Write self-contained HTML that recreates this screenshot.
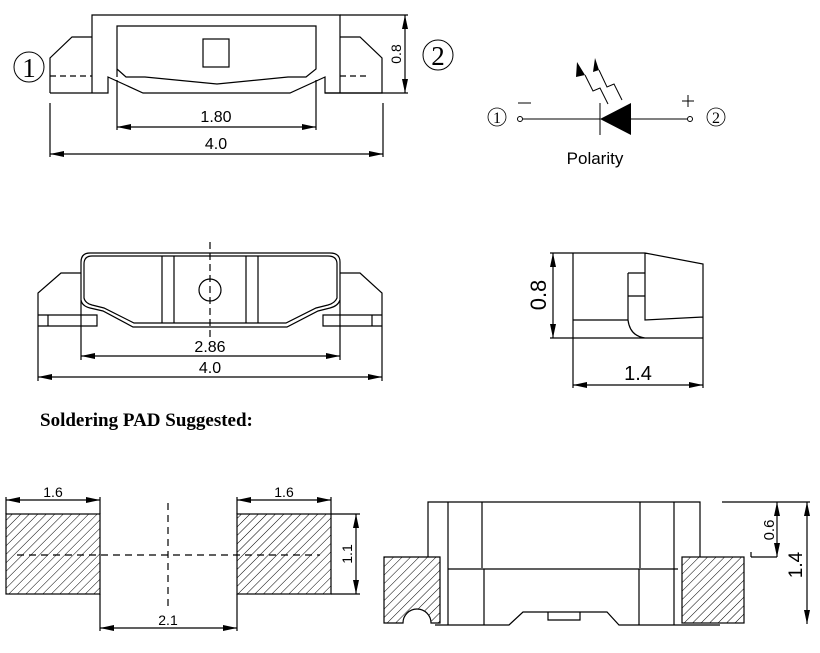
<!DOCTYPE html>
<html><head><meta charset="utf-8"><style>
html,body{margin:0;padding:0;background:#fff}
svg{display:block}
</style></head><body>
<svg width="820" height="653" viewBox="0 0 820 653" xmlns="http://www.w3.org/2000/svg" font-family="Liberation Sans, sans-serif">
<defs>
<marker id="a" viewBox="0 0 14 6" refX="14" refY="3" markerWidth="14" markerHeight="6" markerUnits="userSpaceOnUse" orient="auto-start-reverse"><path d="M0,0L14,3L0,6z" fill="#000"/></marker>
<pattern id="h" patternUnits="userSpaceOnUse" width="6" height="6" patternTransform="rotate(45)"><line x1="0" y1="0" x2="0" y2="6" stroke="#000" stroke-width="1"/></pattern>
</defs>
<g fill="none" stroke="#000" stroke-width="1.2">
<path d="M92,93V15H340V93"/>
<path d="M50,93V58L72,37H92M50,93H108V77L143,93H290L325,77V93H340"/>
<path d="M340,37H360L382,58V93H325"/>
<path d="M50,76H92M340,76H370" stroke-dasharray="6,4"/>
<path d="M117,77V26H316V69L306,77H288L217,84L145,77H126L117,69"/>
<rect x="203" y="39" width="26" height="28"/>
<path d="M117,80V130M316,80V130M50,103V157M383,103V157M340,15H408M340,93H408"/>
<path d="M117,127H316" marker-start="url(#a)" marker-end="url(#a)"/>
<path d="M50,154H383" marker-start="url(#a)" marker-end="url(#a)"/>
<path d="M405,15V93" marker-start="url(#a)" marker-end="url(#a)"/>
<circle cx="29" cy="67" r="15" stroke-width="1"/>
<circle cx="438" cy="55" r="15" stroke-width="1"/>
<circle cx="497" cy="117" r="9" stroke-width="0.8"/>
<circle cx="716" cy="117" r="9" stroke-width="0.8"/>
<circle cx="520" cy="119" r="2.5" stroke-width="1"/>
<circle cx="690" cy="119" r="2.5" stroke-width="1"/>
<path d="M523,119H600M631,119H687M600,103V135M518,103H531M682,101H694M688,95V107" stroke-width="1"/>
<path d="M608,104L600,88L593,91L585,75M622,100L614,84L607,87L599,70" stroke-width="1"/>
<path d="M81,300V262Q81,253,90,253H330Q340,253,340,262V300Q338,306,330,308L318,311L287,327H133L103,311L90,308Q82,306,81,300Z"/>
<path d="M84,298V264Q84,256,92,256H328Q337,256,337,264V298Q335,303,328,305L316,308L286,323H134L104,308L92,305Q85,303,84,298Z"/>
<path d="M38,326V293L61,273H81M38,326H97V315H38M48,315V326"/>
<path d="M382,326V293L360,273H340M382,326H323V315H382M372,315V326"/>
<path d="M162,256V323M174,256V323M246,256V323M258,256V323"/>
<circle cx="210" cy="290" r="11"/>
<path d="M210,242V340" stroke-dasharray="7,4"/>
<path d="M81,300V360M340,300V360M38,326V381M382,326V381"/>
<path d="M81,356H340" marker-start="url(#a)" marker-end="url(#a)"/>
<path d="M38,377H382" marker-start="url(#a)" marker-end="url(#a)"/>
<path d="M573,253V388M550,253H645L703,264V388M645,253V320L703,317M628,273H645M628,296H645M628,273V320Q630,336,645,338M573,320H628M550,338H703"/>
<path d="M553,253V338" marker-start="url(#a)" marker-end="url(#a)"/>
<path d="M573,385H703" marker-start="url(#a)" marker-end="url(#a)"/>
<rect x="6" y="514" width="94" height="80" fill="url(#h)"/>
<rect x="237" y="514" width="94" height="80" fill="url(#h)"/>
<path d="M17,555H320M168,503V610" stroke-dasharray="7,5"/>
<path d="M6,497V514M100,497V514M237,497V514M331,497V514M331,514H360M331,594H360M100,594V631M237,594V631"/>
<path d="M6,500H100" marker-start="url(#a)" marker-end="url(#a)"/>
<path d="M237,500H331" marker-start="url(#a)" marker-end="url(#a)"/>
<path d="M356,514V594" marker-start="url(#a)" marker-end="url(#a)"/>
<path d="M100,628H237" marker-start="url(#a)" marker-end="url(#a)"/>
<path d="M428,557V502H700V557M448,502V625M482,502V568M640,502V568M674,502V625M448,569H678M484,569V625M639,569V625"/>
<path d="M384,557H440V623H431A14,14 0 0 0 403,623H384Z" fill="url(#h)"/>
<rect x="682" y="557" width="62" height="66" fill="url(#h)"/>
<path d="M435,625H509L523,612H607L619,625H720M548,612V620H580V612"/>
<path d="M722,502H810M751,557H777M751,557V552"/>
<path d="M777,502V557" marker-start="url(#a)" marker-end="url(#a)"/>
<path d="M807,502V624" marker-start="url(#a)" marker-end="url(#a)"/>
</g>
<path d="M600,119L631,103V135Z" fill="#000"/>
<path d="M585,75l-8,-13l-1,15z M599,70l-4,-12l-2,14z" fill="#000"/>
<g font-family="Liberation Serif, serif" text-anchor="middle">
<text x="29" y="77" font-size="27">1</text>
<text x="438" y="65" font-size="27">2</text>
<text x="497" y="123" font-size="16">1</text>
<text x="716" y="123" font-size="16">2</text>
<text x="40" y="426" font-size="19" font-weight="bold" text-anchor="start">Soldering PAD Suggested:</text>
</g>
<g text-anchor="middle" font-weight="300">
<text x="595" y="164" font-size="17">Polarity</text>
<text x="216" y="122" font-size="16">1.80</text>
<text x="216" y="149" font-size="16">4.0</text>
<text transform="translate(401,54) rotate(-90)" font-size="14">0.8</text>
<text x="210" y="352" font-size="16">2.86</text>
<text x="210" y="373" font-size="16">4.0</text>
<text transform="translate(546,295) rotate(-90)" font-size="22">0.8</text>
<text x="638" y="380" font-size="20">1.4</text>
<text x="53" y="497" font-size="14">1.6</text>
<text x="284" y="497" font-size="14">1.6</text>
<text transform="translate(352,554) rotate(-90)" font-size="14">1.1</text>
<text x="168" y="625" font-size="14">2.1</text>
<text transform="translate(774,530) rotate(-90)" font-size="15">0.6</text>
<text transform="translate(802,565) rotate(-90)" font-size="19">1.4</text>
</g>
</svg>
</body></html>
